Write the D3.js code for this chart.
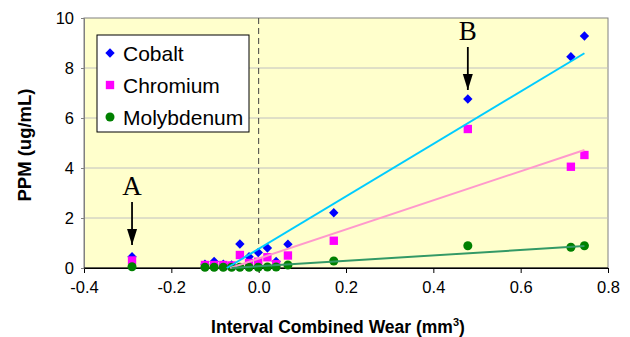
<!DOCTYPE html>
<html>
<head>
<meta charset="utf-8">
<script src="https://cdn.jsdelivr.net/npm/d3@7"></script>
<style>
  body { margin: 0; background: #fff; }
  text { font-family: "Liberation Sans", Arial, sans-serif; }
</style>
</head>
<body>
<script>
// interval wear (mm3) and ion levels (ppm)
const wear       = [-0.29, -0.123, -0.102, -0.081, -0.062, -0.043, -0.022, -0.001, 0.020, 0.040, 0.067, 0.172, 0.479, 0.715, 0.746];
const cobalt     = [0.45, 0.15, 0.26, 0.15, 0.12, 0.96, 0.45, 0.62, 0.80, 0.26, 0.95, 2.21, 6.76, 8.45, 9.28];
const chromium   = [0.30, 0.12, 0.12, 0.12, 0.10, 0.52, 0.20, 0.25, 0.43, 0.15, 0.50, 1.09, 5.56, 4.05, 4.52];
const molybdenum = [0.05, 0.03, 0.03, 0.03, 0.03, 0.03, 0.03, 0.03, 0.04, 0.04, 0.12, 0.28, 0.89, 0.83, 0.89];

// linear trendlines (start, end) as drawn
const cobaltTrend     = [[-0.073, 0], [0.746, 8.59]];
const chromiumTrend   = [[-0.065, 0], [0.746, 4.72]];
const molybdenumTrend = [[-0.062, 0], [0.746, 0.88]];

const xTicks = [-0.4, -0.2, 0, 0.2, 0.4, 0.6, 0.8];
const yTicks = [0, 2, 4, 6, 8, 10];

// annotations: label, x, arrow tip y
const notes = [['A', -0.29, 0.92], ['B', 0.479, 7.12]];

const width = 630;
const height = 337;
const plotLeft = 84, plotRight = 608, plotTop = 18, plotBottom = 268;

const svg = d3.select('body')
    .append('svg')
    .attr('width', width)
    .attr('height', height);

const x = d3.scaleLinear().domain([-0.4, 0.8]).range([plotLeft, plotRight]);
const y = d3.scaleLinear().domain([0, 10]).range([plotBottom, plotTop]);

svg.append('rect')
    .attr('x', plotLeft).attr('y', plotTop)
    .attr('width', plotRight - plotLeft).attr('height', plotBottom - plotTop)
    .attr('fill', '#ffffcc')
    .attr('stroke', '#808080');

svg.append('g')
    .selectAll('line')
    .data(yTicks.filter(d => d > 0 && d < 10))
    .enter()
    .append('line')
    .attr('x1', plotLeft).attr('x2', plotRight)
    .attr('y1', d => y(d)).attr('y2', d => y(d))
    .attr('stroke', '#c0c0c0');

// zero line
svg.append('line')
    .attr('x1', x(0)).attr('x2', x(0))
    .attr('y1', plotTop).attr('y2', plotBottom)
    .attr('stroke', '#404040')
    .attr('stroke-dasharray', '6,4');

const xAxis = d3.axisBottom(x)
    .tickValues(xTicks)
    .tickSize(5)
    .tickPadding(8)
    .tickFormat(d => d.toFixed(1));

const gx = svg.append('g')
    .attr('transform', `translate(0, ${plotBottom})`)
    .call(xAxis);
gx.select('.domain').attr('stroke', '#000');
gx.selectAll('text').attr('font-size', 16.5).attr('font-family', '"Liberation Sans", Arial, sans-serif').attr('fill', '#000');

const yAxis = d3.axisLeft(y)
    .tickValues(yTicks)
    .tickSize(3)
    .tickPadding(7)
    .tickFormat(d => String(d));

const gy = svg.append('g')
    .attr('transform', `translate(${plotLeft}, 0)`)
    .call(yAxis);
gy.select('.domain').attr('stroke', '#808080');
gy.selectAll('.tick line').attr('stroke', '#808080');
gy.selectAll('text').attr('font-size', 16.5).attr('font-family', '"Liberation Sans", Arial, sans-serif').attr('fill', '#000');

svg.append('line')
    .attr('x1', plotLeft).attr('x2', plotRight)
    .attr('y1', y(0)).attr('y2', y(0))
    .attr('stroke', '#000');

const line = d3.line().x(d => x(d[0])).y(d => y(d[1]));

const diamond = d3.symbol().type(d3.symbolDiamond2).size(56);
const square = d3.symbol().type(d3.symbolSquare).size(70);
const circle = d3.symbol().type(d3.symbolCircle).size(64);

const series = [
    { name: 'Cobalt', values: cobalt, trend: cobaltTrend, color: '#0000ff', trendColor: '#00ccff', shape: diamond },
    { name: 'Chromium', values: chromium, trend: chromiumTrend, color: '#ff00ff', trendColor: '#ff99cc', shape: square },
    { name: 'Molybdenum', values: molybdenum, trend: molybdenumTrend, color: '#008000', trendColor: '#339966', shape: circle }
];

series.forEach(s => {
    svg.append('g')
        .selectAll('path')
        .data(s.values)
        .enter()
        .append('path')
        .attr('d', s.shape)
        .attr('transform', (d, i) => `translate(${x(wear[i])}, ${y(d)})`)
        .attr('fill', s.color);
});

series.forEach(s => {
    svg.append('path')
        .attr('d', line(s.trend))
        .attr('fill', 'none')
        .attr('stroke', s.trendColor)
        .attr('stroke-width', 2);
});

// annotation arrows
svg.append('defs').append('marker')
    .attr('id', 'head')
    .attr('viewBox', '0 0 16 10')
    .attr('refX', 16).attr('refY', 5)
    .attr('markerWidth', 16).attr('markerHeight', 11)
    .attr('markerUnits', 'userSpaceOnUse')
    .attr('orient', 'auto')
    .append('path')
    .attr('d', 'M0,0 L16,5 L0,10 Z')
    .attr('fill', '#000');

notes.forEach(n => {
    const tip = y(n[2]);
    svg.append('text')
        .attr('x', x(n[1]))
        .attr('y', tip - 50)
        .attr('text-anchor', 'middle')
        .attr('font-size', 27)
        .style('font-family', '"Liberation Serif", "Times New Roman", serif')
        .text(n[0]);
    svg.append('line')
        .attr('x1', x(n[1])).attr('x2', x(n[1]))
        .attr('y1', tip - 43).attr('y2', tip)
        .attr('stroke', '#000')
        .attr('stroke-width', 1.8)
        .attr('marker-end', 'url(#head)');
});

// legend
const legend = svg.append('g').attr('transform', 'translate(97, 35)');
legend.append('rect')
    .attr('width', 152).attr('height', 97)
    .attr('fill', '#fff')
    .attr('stroke', '#000');

const rows = legend.selectAll('g.row')
    .data(series)
    .enter()
    .append('g')
    .attr('class', 'row')
    .attr('transform', (d, i) => `translate(0, ${18 + i * 32})`);

rows.append('path')
    .attr('d', d => d.shape())
    .attr('transform', 'translate(13, 0)')
    .attr('fill', d => d.color);

rows.append('text')
    .attr('x', 26)
    .attr('y', 7.5)
    .attr('font-size', 21)
    .text(d => d.name);

// axis titles
const xt = svg.append('text')
    .attr('x', 338)
    .attr('y', 333)
    .attr('text-anchor', 'middle')
    .attr('font-size', 17.5)
    .attr('font-weight', 'bold');
xt.append('tspan').text('Interval Combined Wear (mm');
xt.append('tspan').attr('font-size', 11).attr('dy', -7).text('3');
xt.append('tspan').attr('dy', 7).text(')');

svg.append('text')
    .attr('transform', 'translate(31, 145) rotate(-90)')
    .attr('text-anchor', 'middle')
    .attr('font-size', 18.5)
    .attr('font-weight', 'bold')
    .text('PPM (ug/mL)');
</script>
</body>
</html>
